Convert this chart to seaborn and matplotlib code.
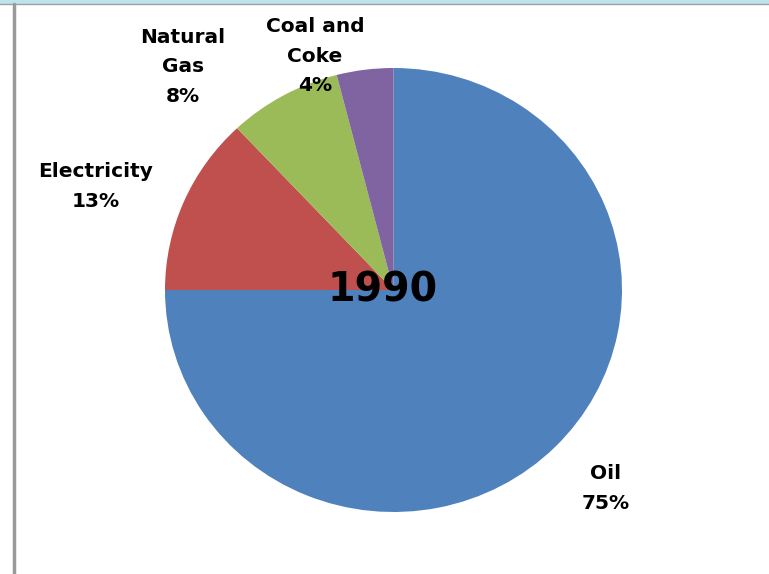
import matplotlib
matplotlib.use("Agg")
import matplotlib.pyplot as plt
from matplotlib.lines import Line2D
import seaborn as sns

sns.set_theme(style="white")
plt.rcParams["font.family"] = ["DejaVu Sans"]

# Energy consumption shares, 1990
sources = ["Oil", "Electricity", "Natural\nGas", "Coal and\nCoke"]
shares = [75, 13, 8, 4]
colors = ["#4F81BD", "#C0504D", "#9BBB59", "#8064A2"]
year = "1990"

# label anchor points in pie-radius units
label_pos = [(0.93, -0.894), (-1.302, 0.466), (-0.921, 1.005), (-0.344, 1.054)]

W, H, DPI = 769, 574, 100
fig = plt.figure(figsize=(W / DPI, H / DPI), dpi=DPI)
fig.patch.set_facecolor("white")

cx, cy, rx, ry = 393.5, 290, 228.5, 222
ax = fig.add_axes([(cx - rx) / W, (H - cy - ry) / H, 2 * rx / W, 2 * ry / H])
ax.pie(shares, colors=colors, startangle=90, counterclock=False, radius=1.0,
       wedgeprops=dict(linewidth=0))
ax.set_aspect("auto")
ax.set_xlim(-1, 1)
ax.set_ylim(-1, 1)
ax.axis("off")

for name, val, (x, y) in zip(sources, shares, label_pos):
    ax.text(x, y, f"{name}\n{val}%", ha="center", va="center", fontsize=14.5,
            fontweight="bold", linespacing=1.7, color="black", clip_on=False)

ax.text(-0.047, 0.0, year, ha="center", va="center", fontsize=28.5,
        fontweight="bold", color="black")

# window frame edges
fig.add_artist(Line2D([0, 1], [1 - 1.5 / H, 1 - 1.5 / H], color="#BFE3EA", linewidth=3))
fig.add_artist(Line2D([0, 1], [1 - 4 / H, 1 - 4 / H], color="#A0A0A0", linewidth=1))
fig.add_artist(Line2D([13.5 / W, 13.5 / W], [0, 1 - 4 / H], color="#9A9A9A", linewidth=2.5))

fig.savefig("out.png", dpi=DPI)
